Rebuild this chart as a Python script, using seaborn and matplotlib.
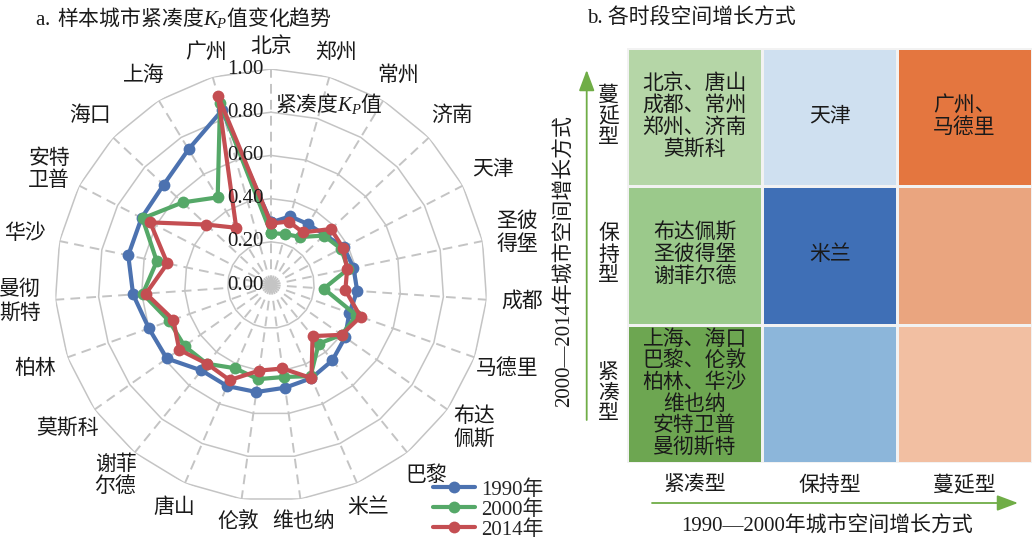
import numpy as np
import matplotlib
matplotlib.use("Agg")
import matplotlib.pyplot as plt
import matplotlib.transforms as mtransforms
from matplotlib.colors import ListedColormap
from matplotlib.lines import Line2D
from matplotlib.patches import FancyArrowPatch
import seaborn as sns

# ---------------- data ----------------
cities = ["北京", "郑州", "常州", "济南", "天津", "圣彼得堡", "成都", "马德里",
          "布达佩斯", "巴黎", "米兰", "维也纳", "伦敦", "唐山", "谢菲尔德", "莫斯科",
          "柏林", "曼彻斯特", "华沙", "安特卫普", "海口", "上海", "广州"]
city_labels = ["北京", "郑州", "常州", "济南", "天津", "圣彼\n得堡", "成都", "马德里",
               "布达\n佩斯", "巴黎", "米兰", "维也纳", "伦敦", "唐山", "谢菲\n尔德", "莫斯科",
               "柏林", "曼彻\n斯特", "华沙", "安特\n卫普", "海口", "上海", "广州"]
kp_1990 = [0.29, 0.33, 0.33, 0.34, 0.38, 0.39, 0.40, 0.385, 0.42, 0.45, 0.47, 0.48,
           0.50, 0.51, 0.51, 0.59, 0.60, 0.64, 0.675, 0.675, 0.68, 0.735, 0.84]
kp_2000 = [0.24, 0.245, 0.26, 0.335, 0.365, 0.365, 0.245, 0.42, 0.40, 0.35, 0.46, 0.43,
           0.44, 0.42, 0.47, 0.49, 0.50, 0.595, 0.54, 0.67, 0.56, 0.475, 0.875]
kp_2014 = [0.285, 0.305, 0.285, 0.38, 0.375, 0.36, 0.345, 0.44, 0.40, 0.305, 0.47, 0.39,
           0.40, 0.48, 0.47, 0.52, 0.48, 0.58, 0.49, 0.63, 0.41, 0.31, 0.91]
years = ["1990年", "2000年", "2014年"]
r_ticks = [0.0, 0.2, 0.4, 0.6, 0.8, 1.0]

growth_cols = ["紧凑型", "保持型", "蔓延型"]   # 1990—2000
growth_rows = ["蔓延型", "保持型", "紧凑型"]   # 2000—2014, top to bottom
cell_text = [["北京、唐山\n成都、常州\n郑州、济南\n莫斯科", "天津", "广州、\n马德里"],
             ["布达佩斯\n圣彼得堡\n谢菲尔德", "米兰", ""],
             ["上海、海口\n巴黎、伦敦\n柏林、华沙\n维也纳\n安特卫普\n曼彻斯特", "", ""]]

# ---------------- style ----------------
cell_colors = ["#B5D6A7", "#CFE0F0", "#E4763F",
               "#9BC98B", "#3F6FB6", "#EAA57F",
               "#6DA651", "#8CB6DA", "#F2BFA2"]

sns.set_style("white")
plt.rcParams["font.family"] = ["Liberation Serif", "Noto Sans CJK SC"]
plt.rcParams["mathtext.fontset"] = "custom"
plt.rcParams["mathtext.it"] = "Liberation Serif:italic"
plt.rcParams["mathtext.rm"] = "Liberation Serif"

W, H = 1032, 546
fig = plt.figure(figsize=(W / 100, H / 100), dpi=100)


def fx(px):
    return px / W


def fy(py):
    return 1 - py / H


FS = 15
TXT = "#1a1a1a"
GRID = "#C4C4C4"
GREEN = "#70AD47"
deep = sns.color_palette("deep")
line_colors = [deep[0], deep[2], deep[3]]

# ---------------- panel a: radar ----------------
cx, cy, R = 271, 285, 216
axa = fig.add_axes([fx(cx - R), fy(cy + R), 2 * R / W, 2 * R / H], projection="polar")
axa.set_theta_zero_location("N")
axa.set_theta_direction(-1)
axa.set_facecolor("none")
axa.grid(False)
axa.spines["polar"].set_visible(False)

n = len(cities)
theta = np.arange(n) * 2 * np.pi / n
theta_closed = np.append(theta, 2 * np.pi)

# polygon rings and dashed spokes
for lvl in r_ticks[1:]:
    axa.plot(theta_closed, np.full(n + 1, lvl), color=GRID, lw=1.1, zorder=1)
for t in theta:
    axa.plot([t, t], [0, 1], color=GRID, lw=1.4, ls=(0, (5, 3.2)), zorder=1)

for vals, col in zip([kp_1990, kp_2000, kp_2014], line_colors):
    v = np.append(vals, vals[0])
    sns.lineplot(x=theta_closed, y=v, ax=axa, sort=False, estimator=None, color=col,
                 lw=3, marker="o", markersize=8.5, markeredgewidth=0, zorder=3)

axa.set_ylim(0, 1)
axa.set_xticks([])
axa.set_yticks([])
axa.set_xlabel("")
axa.set_ylabel("")

off = mtransforms.offset_copy(axa.transData, fig=fig, x=-7, y=0, units="dots")
for lvl in r_ticks:
    axa.text(0, lvl, f"{lvl:.2f}", transform=off, ha="right", va="center",
             fontsize=FS, color=TXT, zorder=4)

for t, lab in zip(theta, city_labels):
    r = 1.10 + 0.065 * abs(np.sin(t))
    axa.text(t, r, lab, ha="center", va="center", fontsize=FS, color=TXT, linespacing=1.2)

fig.text(fx(275), fy(103), "紧凑度$K_P$值", family="Noto Sans CJK SC",
         ha="left", va="center", fontsize=FS, color=TXT)

handles = [Line2D([], [], color=c, lw=3, marker="o", markersize=8.5, markeredgewidth=0)
           for c in line_colors]
fig.legend(handles, years, loc="upper left", bbox_to_anchor=(fx(433), fy(480)),
           frameon=False, handlelength=2.0, handletextpad=0.3, labelspacing=0.02,
           borderpad=0, borderaxespad=0, fontsize=FS)

fig.text(fx(35), fy(18), "$\\mathrm{a.}$ 样本城市紧凑度$K_P$值变化趋势", family="Noto Sans CJK SC",
         ha="left", va="center", fontsize=FS, color=TXT)

# ---------------- panel b: growth-type matrix ----------------
axb = fig.add_axes([fx(627.3), fy(463.3), (W - 627.3) / W, (463.3 - 47.7) / H])
codes = np.arange(9).reshape(3, 3)
sns.heatmap(codes, ax=axb, cmap=ListedColormap(cell_colors), vmin=-0.5, vmax=8.5,
            cbar=False, annot=np.array(cell_text, dtype=object), fmt="",
            annot_kws=dict(fontsize=FS, color=TXT, linespacing=1.12),
            linewidths=1.0, linecolor="#F2F2F2",
            xticklabels=growth_cols, yticklabels=["\n".join(s) for s in growth_rows])
axb.tick_params(axis="both", length=0, labelsize=FS, colors=TXT)
axb.tick_params(axis="x", pad=9)
axb.tick_params(axis="y", pad=6)
plt.setp(axb.get_yticklabels(), rotation=0, linespacing=1.12, va="center")
plt.setp(axb.get_xticklabels(), rotation=0)

fig.add_artist(FancyArrowPatch((fx(586.7), fy(420)), (fx(586.7), fy(70)),
                               transform=fig.transFigure, arrowstyle="-|>,head_length=0.8,head_width=0.3",
                               color=GREEN, lw=1.3, mutation_scale=16, shrinkA=0, shrinkB=0))
fig.add_artist(FancyArrowPatch((fx(652), fy(503)), (fx(1018), fy(503)),
                               transform=fig.transFigure, arrowstyle="-|>,head_length=0.8,head_width=0.3",
                               color=GREEN, lw=1.3, mutation_scale=16, shrinkA=0, shrinkB=0))

fig.text(fx(827), fy(527), "1990—2000年城市空间增长方式", ha="center", va="center",
         fontsize=FS, color=TXT)
fig.text(fx(565), fy(261), "2000—2014年城市空间增长方式", rotation=90, ha="center",
         va="center", fontsize=FS, color=TXT)
fig.text(fx(587), fy(18), "b. 各时段空间增长方式", ha="left", va="center",
         fontsize=FS, color=TXT)

fig.savefig("out.png", dpi=100)
